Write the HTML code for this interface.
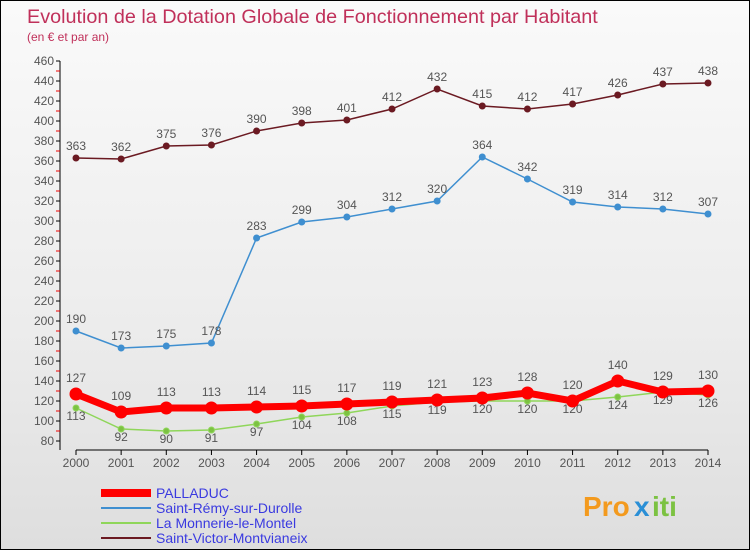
<!DOCTYPE html>
<html><head><meta charset="utf-8"><style>
body{margin:0;}
#c{width:750px;height:550px;position:relative;overflow:hidden;border:1px solid #000;box-sizing:border-box;
background:linear-gradient(180deg,#fafafa 0%,#ececec 60%,#dedede 100%);font-family:"Liberation Sans",sans-serif;}
</style></head><body>
<div id="c">
<svg id="s" width="750" height="550" style="position:absolute;left:0;top:0">
<text x="26" y="22" font-size="19.8" fill="#c0305a">Evolution de la Dotation Globale de Fonctionnement par Habitant</text>
<text x="26" y="40" font-size="12" fill="#c0305a">(en € et par an)</text>
<g id="g"></g>
<g font-size="28" font-weight="bold">
<text x="582" y="515" fill="#f39a1e">Pro</text><text x="633" y="515" fill="#2a8fd6">x</text><text x="651" y="515" fill="#7cc242">iti</text>
</g>
</svg>
</div>
<script>
const years=[2000,2001,2002,2003,2004,2005,2006,2007,2008,2009,2010,2011,2012,2013,2014];
const yTicks=[80,100,120,140,160,180,200,220,240,260,280,300,320,340,360,380,400,420,440,460];
const palladuc=[127,109,113,113,114,115,117,119,121,123,128,120,140,129,130];
const stRemy=[190,173,175,178,283,299,304,312,320,364,342,319,314,312,307];
const monnerie=[113,92,90,91,97,104,108,115,119,120,120,120,124,129,126];
const stVictor=[363,362,375,376,390,398,401,412,432,415,412,417,426,437,438];
const names=["PALLADUC","Saint-Rémy-sur-Durolle","La Monnerie-le-Montel","Saint-Victor-Montvianeix"];
const NS="http://www.w3.org/2000/svg",g=document.getElementById('g');
const X=i=>75+i*(707-75)/(years.length-1);
const Y=v=>440-(v-80)*(380/380);
function el(t,a,p){const e=document.createElementNS(NS,t);for(const k in a)e.setAttribute(k,a[k]);(p||g).appendChild(e);return e;}
let ya=el('line',{x1:59,y1:60,x2:59,y2:449,stroke:'#000'});


let xa=el('line',{x1:75,y1:449,x2:707,y2:449,stroke:'#000'});


yTicks.forEach(v=>{
 el('line',{x1:55,y1:Y(v),x2:59,y2:Y(v),stroke:'#000'});
 if(v<460)el('line',{x1:55,y1:Y(v+10),x2:59,y2:Y(v+10),stroke:'#e00'});
 const t=el('text',{x:53,y:Y(v)+4,'font-size':12,fill:'#555','text-anchor':'end'});t.textContent=v;
 
 
});
years.forEach((y,i)=>{
 el('line',{x1:X(i),y1:449,x2:X(i),y2:454,stroke:'#000'});
 const t=el('text',{x:X(i),y:466,'font-size':12,fill:'#555','text-anchor':'middle'});t.textContent=y;
 
 
});
function series(d,col,w,r,fill,name,labelDy){
 const p=el('polyline',{points:d.map((v,i)=>X(i)+','+Y(v)).join(' '),fill:'none',stroke:col,'stroke-width':w});
 
 
 d.forEach((v,i)=>{
  const c=el('circle',{cx:X(i),cy:Y(v),r:r,fill:fill,stroke:col,'stroke-width':1});
  
  
  const t=el('text',{x:X(i),y:Y(v)+labelDy,'font-size':12,fill:'#555','text-anchor':'middle'});t.textContent=v;
  
  
 });
}
series(stVictor,'#6b1a22',1.5,3,'#6b1a22','st-victor',-8);
series(stRemy,'#3f8fd0',1.5,3,'#3f8fd0','st-remy',-8);
series(monnerie,'#8fd65a',1.5,3,'#7cc242','monnerie',12);
series(palladuc,'#ff0000',7,6,'#ff0000','palladuc',-12);
const lc=['#ff0000','#3f8fd0','#8fd65a','#6b1a22'],lw=[8,2,2,2];
names.forEach((n,i)=>{
 const y=492+i*15;
 const l=el('line',{x1:100,y1:y,x2:150,y2:y,stroke:lc[i],'stroke-width':lw[i]});
 
 
 const t=el('text',{x:155,y:y+5,'font-size':14,fill:'#3a3ae0'});t.textContent=n;
 
 
});
</script>
</body></html>
